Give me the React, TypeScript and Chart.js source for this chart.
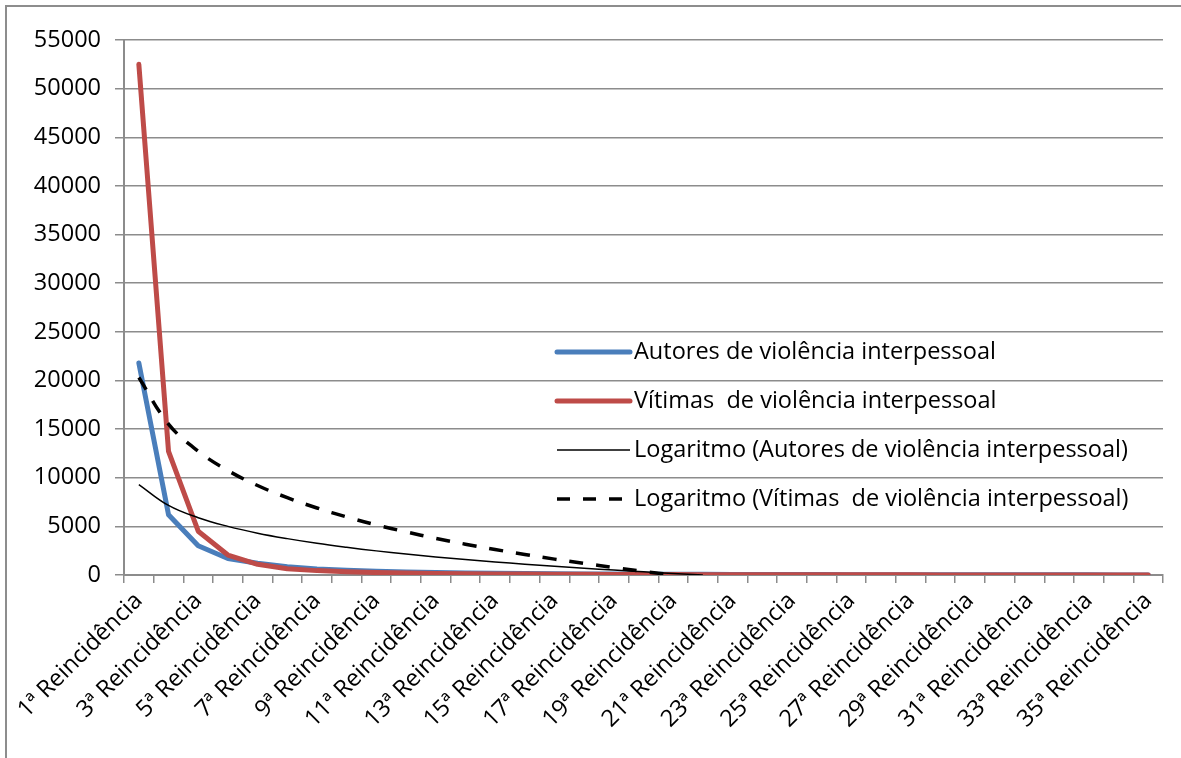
import React, { useEffect, useRef } from "react";
import { Chart, registerables } from "chart.js";

Chart.register(...registerables);

const categories = [
  "1ª Reincidência", "2ª Reincidência", "3ª Reincidência", "4ª Reincidência", "5ª Reincidência",
  "6ª Reincidência", "7ª Reincidência", "8ª Reincidência", "9ª Reincidência", "10ª Reincidência",
  "11ª Reincidência", "12ª Reincidência", "13ª Reincidência", "14ª Reincidência", "15ª Reincidência",
  "16ª Reincidência", "17ª Reincidência", "18ª Reincidência", "19ª Reincidência", "20ª Reincidência",
  "21ª Reincidência", "22ª Reincidência", "23ª Reincidência", "24ª Reincidência", "25ª Reincidência",
  "26ª Reincidência", "27ª Reincidência", "28ª Reincidência", "29ª Reincidência", "30ª Reincidência",
  "31ª Reincidência", "32ª Reincidência", "33ª Reincidência", "34ª Reincidência", "35ª Reincidência",
];

const autores = [
  21800, 6200, 3000, 1700, 1200, 850, 620, 480, 380, 300,
  250, 210, 180, 150, 130, 110, 95, 85, 75, 65,
  58, 52, 46, 42, 38, 34, 30, 27, 24, 21,
  18, 16, 14, 12, 10,
];

const vitimas = [
  52500, 12700, 4500, 2050, 1100, 650, 450, 330, 250, 200,
  160, 130, 110, 90, 75, 65, 55, 48, 42, 36,
  31, 27, 24, 21, 18, 16, 14, 12, 10, 9,
  8, 7, 6, 5, 4,
];

// Logarithmic trend lines (they vanish below the axis)
const trendAutores = [
  9300, 7150, 5890, 5000, 4300, 3740, 3260, 2850, 2480, 2150,
  1860, 1590, 1340, 1110, 890, 690, 510, 330, 160, 0,
  null, null, null, null, null, null, null, null, null, null,
  null, null, null, null, null,
];

const trendVitimas = [
  20300, 15520, 12730, 10740, 9200, 7950, 6890, 5970, 5150, 4430,
  3770, 3170, 2620, 2110, 1630, 1190, 770, 370, 0, null,
  null, null, null, null, null, null, null, null, null, null,
  null, null, null, null, null,
];

const yTicks = { min: 0, max: 55000, step: 5000 };

const seriesNames = [
  "Autores de violência interpessoal",
  "Vítimas  de violência interpessoal",
  "Logaritmo (Autores de violência interpessoal)",
  "Logaritmo (Vítimas  de violência interpessoal)",
];

const BLUE = "#4A7EBB";
const RED = "#BE4B48";
const GRID = "#8c8c8c";
const FONT = "'Open Sans', 'Liberation Sans', sans-serif";

const legendPlugin = {
  id: "insideLegend",
  afterDatasetsDraw(chart: any) {
    const ctx = chart.ctx as CanvasRenderingContext2D;
    const x0 = 557;
    const x1 = 630;
    const ys = [352, 401, 450, 499];
    const styles = [
      { color: BLUE, width: 5, dash: [] as number[], cap: "round" },
      { color: RED, width: 5, dash: [] as number[], cap: "round" },
      { color: "#000", width: 1.5, dash: [] as number[], cap: "butt" },
      { color: "#000", width: 3.5, dash: [13, 13], cap: "butt" },
    ];
    ctx.save();
    ys.forEach((y, i) => {
      const s = styles[i];
      ctx.beginPath();
      ctx.strokeStyle = s.color;
      ctx.lineWidth = s.width;
      ctx.lineCap = s.cap as CanvasLineCap;
      ctx.setLineDash(s.dash);
      ctx.moveTo(x0, y);
      ctx.lineTo(x1, y);
      ctx.stroke();
      ctx.setLineDash([]);
      ctx.fillStyle = "#000";
      ctx.font = `23.5px ${FONT}`;
      ctx.textBaseline = "middle";
      ctx.textAlign = "left";
      ctx.fillText(seriesNames[i], 634, y);
    });
    ctx.restore();
  },
};

export default function App() {
  const canvasRef = useRef<HTMLCanvasElement | null>(null);

  useEffect(() => {
    const canvas = canvasRef.current;
    if (!canvas) return;
    const chart = new Chart(canvas, {
      type: "line",
      data: {
        labels: categories,
        datasets: [
          {
            label: seriesNames[0],
            data: autores,
            borderColor: BLUE,
            borderWidth: 5,
            pointRadius: 0,
            tension: 0,
            borderJoinStyle: "round",
            borderCapStyle: "round",
            order: 3,
          },
          {
            label: seriesNames[1],
            data: vitimas,
            borderColor: RED,
            borderWidth: 5,
            pointRadius: 0,
            tension: 0,
            borderJoinStyle: "round",
            borderCapStyle: "round",
            order: 2,
          },
          {
            label: seriesNames[2],
            data: trendAutores,
            borderColor: "#000",
            borderWidth: 1.5,
            pointRadius: 0,
            tension: 0.4,
            spanGaps: false,
            order: 1,
          },
          {
            label: seriesNames[3],
            data: trendVitimas,
            borderColor: "#000",
            borderWidth: 3.5,
            borderDash: [14, 13],
            pointRadius: 0,
            tension: 0.4,
            spanGaps: false,
            order: 0,
          },
        ],
      },
      options: {
        responsive: false,
        animation: false,
        devicePixelRatio: 1,
        layout: { padding: { top: 40, right: 18, left: 0, bottom: 0 } },
        plugins: {
          legend: { display: false },
          tooltip: { enabled: false },
          title: { display: false },
        },
        scales: {
          x: {
            type: "category",
            offset: true,
            grid: {
              offset: true,
              drawOnChartArea: false,
              drawTicks: true,
              tickLength: 8,
              color: GRID,
              lineWidth: 1.5,
            },
            border: { color: GRID, width: 2 },
            ticks: {
              autoSkip: false,
              maxRotation: 45,
              minRotation: 45,
              color: "#000",
              padding: 4,
              font: { family: FONT, size: 23.5 },
              callback: (_v: any, i: number) => (i % 2 === 0 ? categories[i] : ""),
            },
            afterFit: (s: any) => {
              s.height = 183;
            },
          },
          y: {
            min: yTicks.min,
            max: yTicks.max,
            grid: { color: GRID, lineWidth: 1.5, tickLength: 9 },
            border: { color: GRID, width: 2 },
            ticks: {
              stepSize: yTicks.step,
              color: "#000",
              padding: 14,
              font: { family: FONT, size: 23.5 },
              callback: (v: any) => String(v),
            },
            afterFit: (s: any) => {
              s.width = 124;
            },
          },
        },
      },
      plugins: [legendPlugin],
    } as any);
    return () => chart.destroy();
  }, []);

  return (
    <div style={{ position: "fixed", left: 0, top: 0, width: 1181, height: 758, background: "#fff", overflow: "hidden" }}>
      <div
        style={{
          position: "absolute",
          left: 5,
          top: 5,
          width: 1300,
          height: 900,
          border: "2px solid #8d8d8d",
          boxSizing: "border-box",
        }}
      />
      <canvas ref={canvasRef} width={1181} height={758} style={{ position: "absolute", left: 0, top: 0 }} />
    </div>
  );
}
